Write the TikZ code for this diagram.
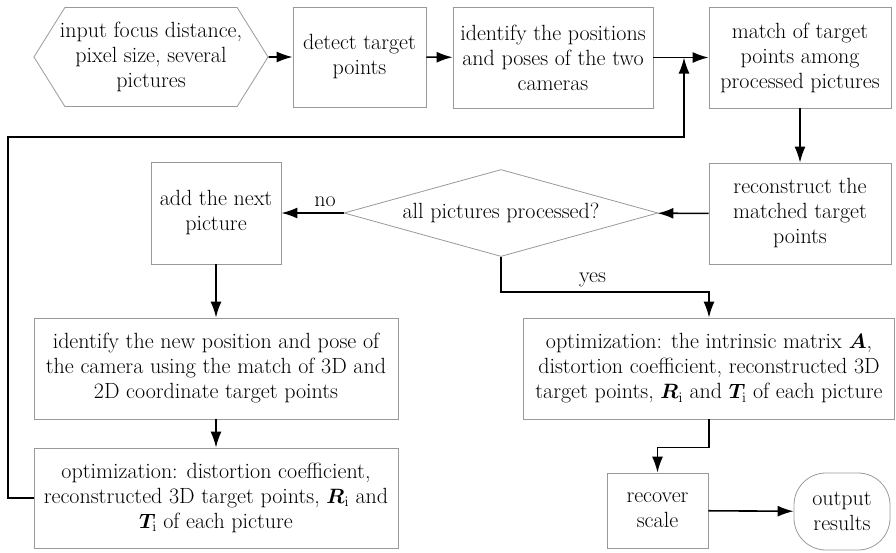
\documentclass[tikz,border=0pt]{standalone}
\usepackage{bm}
\usetikzlibrary{arrows.meta,shapes.geometric,shapes.symbols}

\tikzset{
  box/.style={draw=gray!80, line width=0.8pt, align=center, inner sep=1pt},
  arr/.style={-{Latex[length=16pt,width=11pt]}, line width=1.6pt},
}

\begin{document}
\begin{tikzpicture}[x=1pt, y=-1pt, font=\fontsize{22}{25}\selectfont]
		\useasboundingbox (0,0) rectangle (896,552);

		\node[box, shape=signal, signal to=west and east, signal pointer angle=116,
		      minimum width=234pt, minimum height=99pt, inner ysep=0pt, inner xsep=-5pt] (input) at (151,57)
		      {input focus distance,\\pixel size, several\\pictures};
		\node[box, minimum width=133pt, minimum height=100pt] (detect) at (359.5,57) {detect target\\points};
		\node[box, minimum width=200pt, minimum height=101pt] (ident) at (553,57.5) {identify the positions\\and poses of the two\\cameras};
		\node[box, minimum width=182pt, minimum height=101pt] (match) at (800,57.5) {match of target\\points among\\processed pictures};
		\node[box, minimum width=182pt, minimum height=101pt] (recon) at (800,213.5) {reconstruct the\\matched target\\points};
		\node[box, shape=diamond, aspect=3.6, inner sep=0pt, minimum width=314pt, minimum height=87pt] (check) at (501,213) {all pictures processed?};
		\node[box, minimum width=130pt, minimum height=102pt] (addnext) at (216,213) {add the next\\picture};
		\node[box, minimum width=364pt, minimum height=101pt] (newpose) at (216,368.5)
		      {identify the new position and pose of\\the camera using the match of 3D and\\2D coordinate target points};
		\node[box, minimum width=364pt, minimum height=100pt] (optleft) at (216,498)
		      {optimization: distortion coefficient,\\reconstructed 3D target points, $\bm{R}_{\mathrm{i}}$ and\\$\bm{T}_{\mathrm{i}}$ of each picture};
		\node[box, minimum width=371pt, minimum height=101pt] (optright) at (709,368.5)
		      {optimization: the intrinsic matrix $\bm{A}$,\\distortion coefficient, reconstructed 3D\\target points, $\bm{R}_{\mathrm{i}}$ and $\bm{T}_{\mathrm{i}}$ of each picture};
		\node[box, minimum width=101pt, minimum height=75pt] (recover) at (657.5,510.5) {recover\\scale};
		\node[box, rounded corners=32pt, minimum width=96pt, minimum height=77pt] (output) at (842,511.5) {output\\results};

		\coordinate (join) at (684,57.5);
		\coordinate (loop) at (8,137);

		\draw[arr] (input) -- (detect);
		\draw[arr] (detect) -- (ident);
		\draw[arr] (ident) -- (match);
		\draw[arr] (match) -- (recon);
		\draw[arr] (recon) -- (check);
		\draw[arr] (check.west) -- node[pos=0.3, above=2pt] {no} (addnext);
		\draw[arr] (addnext) -- (newpose);
		\draw[arr] (newpose) -- (optleft);
		\draw[arr] (optleft.west) -| (loop) -| (join);
		\draw[arr] (check.south) -- ++(0,35) -| node[pos=0.22, above=1pt] {yes} (optright.north);
		\draw[arr] (optright.south) -- ++(0,28) -| (recover.north);
		\draw[arr] (recover) -- (output);
	\end{tikzpicture}
\end{document}
